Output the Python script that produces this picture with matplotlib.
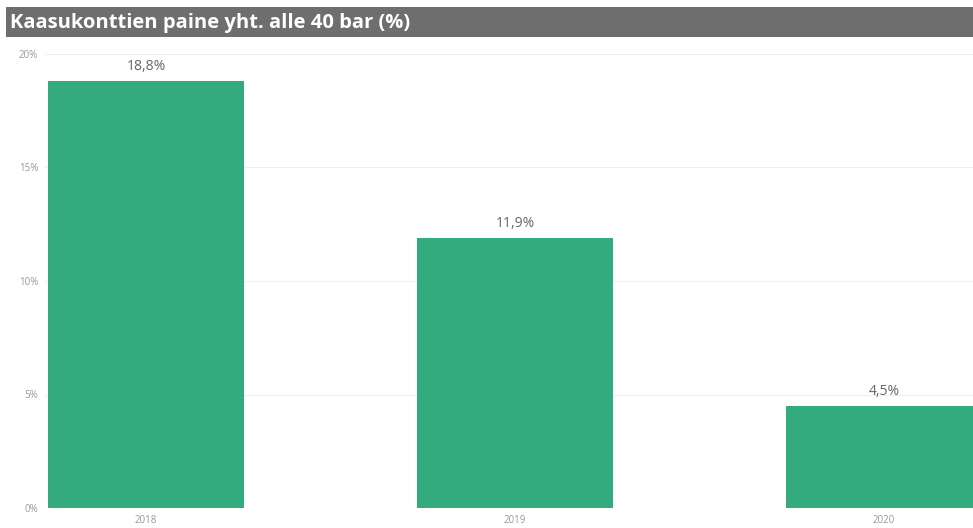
import matplotlib.pyplot as plt
from matplotlib.patches import Rectangle

years = ["2018", "2019", "2020"]
shares = [18.8, 11.9, 4.5]
value_labels = ["18,8%", "11,9%", "4,5%"]
y_ticks = [0, 5, 10, 15, 20]
y_tick_labels = ["0%", "5%", "10%", "15%", "20%"]
title = "Kaasukonttien paine yht. alle 40 bar (%)"

plt.rcParams["font.family"] = ["Open Sans", "DejaVu Sans"]

fig = plt.figure(figsize=(9.73, 5.28), dpi=100)

# title bar
tax = fig.add_axes([6 / 973, 1 - 37 / 528, 967 / 973, 30 / 528])
tax.add_patch(Rectangle((0, 0), 1, 1, color="#6e6e6e", transform=tax.transAxes))
tax.text(0.004, 0.47, title, color="white", fontsize=14.5, fontweight="bold",
         va="center", ha="left", transform=tax.transAxes)
tax.axis("off")

ax = fig.add_axes([45 / 973, 1 - 508 / 528, 1 - 45 / 973, (508 - 54) / 528])
x = range(len(years))
bars = ax.bar(x, shares, width=0.53, color="#33ab7e", zorder=2)
for b, lab in zip(bars, value_labels):
    ax.text(b.get_x() + b.get_width() / 2, b.get_height() + 0.3, lab,
            ha="center", va="bottom", fontsize=10, color="#666666")

ax.set_xlim(-0.274, 2.241)
ax.set_ylim(0, 20)
ax.set_xticks(list(x))
ax.set_xticklabels(years, fontsize=7, color="#999999")
ax.set_yticks(y_ticks)
ax.set_yticklabels(y_tick_labels, fontsize=7, color="#999999")
ax.tick_params(length=0, pad=5)
ax.grid(axis="y", color="#eeeeee", linewidth=0.8, zorder=0)
for s in ax.spines.values():
    s.set_visible(False)

fig.savefig("out.png", dpi=100)
